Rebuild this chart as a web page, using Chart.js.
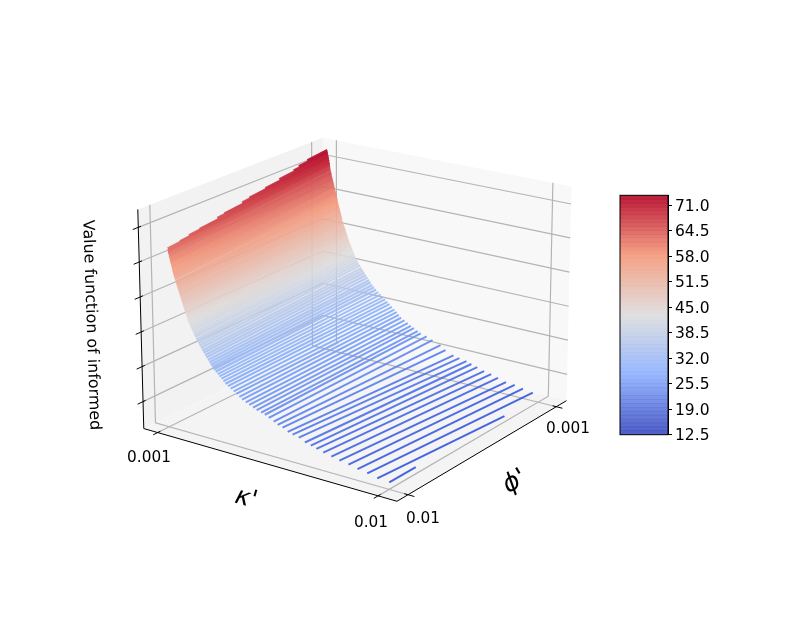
<!DOCTYPE html>
<html>
<head>
<meta charset="utf-8">
<title>Value function of informed</title>
<script src="https://cdn.jsdelivr.net/npm/chart.js@4/dist/chart.umd.min.js"></script>
<style>
  html, body { margin: 0; background: #fff; }
  #surface { position: absolute; left: 0; top: 0; }
  #colorbar { position: absolute; left: 600px; top: 183px; }
</style>
</head>
<body>
<canvas id="surface" width="792" height="633"></canvas>
<canvas id="colorbar" width="130" height="264"></canvas>
<script>
'use strict';

// one entry per surface row, kappa and phi in units of 1e-3
const kappaStart = [
  1.07, 1.08, 1.09, 1.09, 1.1, 1.1, 1.1, 1.1, 1.1, 1.1, 1.1, 1.1, 1.1, 1.11, 1.11,
  1.12, 1.14, 1.15, 1.17, 1.19, 1.2, 1.22, 1.24, 1.25, 1.27, 1.28, 1.3, 1.32, 1.34, 1.36, 1.39, 1.41, 1.43, 1.45, 1.47, 1.5, 1.52, 1.54, 1.56, 1.59, 1.61, 1.63, 1.65,
  1.67, 1.7, 1.72, 1.75, 1.78, 1.8, 1.83, 1.85, 1.88, 1.92, 1.95, 1.99, 2.02, 2.06, 2.1, 2.13, 2.17, 2.21, 2.26,
  2.3, 2.35, 2.41, 2.46, 2.52, 2.57, 2.63, 2.69, 2.74, 2.8, 2.86, 2.94, 3.02, 3.09, 3.17, 3.25, 3.33,
  3.43, 3.54, 3.66, 3.77, 3.89, 4, 4.15, 4.29, 4.44, 4.59, 4.77,
  4.92, 5.08, 5.28, 5.44,
  5.64, 5.85, 6.05, 6.3, 6.55, 6.79, 7.02, 7.3, 7.63, 7.96, 8.33, 8.7, 9.1, 9.51, 10
];
const valueStart = [
  72.7, 72, 71.3, 70.4, 69.4, 68.5, 67.9, 66.8, 66.3, 65.2, 64.6, 63.9, 63.3, 62.8, 62.4,
  61.9, 61.4, 60.9, 60.3, 59.8, 59.3, 58.8, 58.3, 57.8, 57.2, 56.7, 56.2, 55.7, 55.2, 54.7, 54.1, 53.6, 53.1, 52.6, 52.1, 51.6, 51, 50.5, 50, 49.5, 49, 48.5, 48,
  47.5, 46.9, 46.3, 45.7, 45.2, 44.6, 44, 43.4, 42.9, 42.4, 41.8, 41.3, 40.8, 40.2, 39.7, 39.2, 38.6, 38.1, 37.6,
  37, 36.4, 35.8, 35.2, 34.6, 34, 33.4, 32.8, 32.2, 31.7, 31.1, 30.6, 30, 29.5, 29, 28.4, 27.8,
  27.3, 26.8, 26.2, 25.7, 25.1, 24.5, 24, 23.5, 23, 22.6, 22.2,
  21.9, 21.3, 20.6, 20,
  19.6, 18.8, 18.4, 18, 17.1, 16.7, 16.2, 15.7, 15.2, 14.7, 14.3, 13.7, 13.3, 12.7, 12.5
];
const kappaEnd = [
  1.08, 1.09, 1.1, 1.11, 1.12, 1.13, 1.14, 1.15, 1.15, 1.16, 1.17, 1.17, 1.18, 1.19, 1.2,
  1.21, 1.23, 1.25, 1.26, 1.28, 1.3, 1.32, 1.34, 1.36, 1.37, 1.39, 1.41, 1.43, 1.45, 1.47, 1.49, 1.5, 1.52, 1.54, 1.56, 1.58, 1.6, 1.62, 1.64, 1.66, 1.68, 1.69, 1.71,
  1.74, 1.77, 1.8, 1.83, 1.85, 1.88, 1.91, 1.94, 1.97, 2, 2.04, 2.07, 2.11, 2.14, 2.18, 2.21, 2.25, 2.29, 2.34,
  2.39, 2.45, 2.51, 2.57, 2.63, 2.69, 2.76, 2.83, 2.89, 2.96, 3.03, 3.12, 3.22, 3.31, 3.41, 3.5, 3.6,
  3.69, 3.79, 3.89, 3.99, 4.08, 4.18, 4.32, 4.46, 4.59, 4.72, 4.88,
  5.01, 5.26, 5.51, 5.85,
  6.06, 6.4, 6.65, 6.95, 7.16, 7.41, 7.7, 8, 8.29, 8.63, 9, 9.35, 9.77, 10.04, 10
];
const valueEnd = [
  73.5, 73, 72.6, 72.2, 71.7, 71.4, 71.1, 70.6, 70.4, 69.9, 69.6, 69.3, 69, 68.5, 68,
  67.5, 66.9, 66.4, 65.8, 65.2, 64.7, 64.1, 63.5, 62.9, 62.4, 61.8, 61.2, 60.7, 60.1, 59.5, 58.9, 58.4, 57.8, 57.2, 56.6, 56.1, 55.5, 54.9, 54.4, 53.8, 53.2, 52.6, 52,
  51.5, 50.9, 50.3, 49.7, 49.1, 48.5, 47.9, 47.2, 46.6, 46, 45.4, 44.8, 44.2, 43.6, 43, 42.4, 41.8, 41.2, 40.6,
  40, 39.4, 38.7, 38.1, 37.5, 36.8, 36.2, 35.5, 34.9, 34.2, 33.6, 33, 32.4, 31.8, 31.2, 30.6, 30,
  29.5, 28.8, 28.1, 27.5, 26.8, 26.1, 25.5, 24.9, 24.3, 23.8, 23.2,
  22.7, 22.2, 21.5, 20.6,
  19.4, 18.4, 18, 17.6, 17.1, 16.6, 15.9, 15.5, 14.9, 14.2, 14, 13.5, 13, 12.5, 12.5
];
// the first rows start short of phi = 10, the last two stop short of phi = 1
const phiStartTopRows = [2.1, 2.6, 2.9, 3.7, 4.5, 5.4, 5.8, 6.8, 7.2, 8.2, 8.8, 9.3];
const phiEndLastRows = [3.1, 8.4];

const kappaTicks = [1, 10];
const phiTicks = [1, 10];
const valueTicks = [18.5, 28.8, 39, 49.3, 59.6, 69.8];
const kappaTickLabels = ['0.001', '0.01'];
const phiTickLabels = ['0.001', '0.01'];

const colorbarTicks = [12.5, 19, 25.5, 32, 38.5, 45, 51.5, 58, 64.5, 71];
const colorbarLevels = [
  12.5, 13.5, 14.5, 15.5, 16.5, 17.5, 18.5, 19.5, 20.5, 21.5, 22.5, 23.5, 24.5, 25.5, 26.5, 27.5,
  28.5, 29.5, 30.5, 31.5, 32.5, 33.5, 34.5, 35.5, 36.5, 37.5, 38.5, 39.5, 40.5, 41.5, 42.5, 43.5,
  44.5, 45.5, 46.5, 47.5, 48.5, 49.5, 50.5, 51.5, 52.5, 53.5, 54.5, 55.5, 56.5, 57.5, 58.5, 59.5,
  60.5, 61.5, 62.5, 63.5, 64.5, 65.5, 66.5, 67.5, 68.5, 69.5, 70.5, 71.5, 72.5, 73.5
];

// screen corners of the 3d box, u runs along kappa, v along phi, w upward
const box = {
  back:  { floor: [323, 340.5], top: [322.5, 137] },
  right: { floor: [567, 401], top: [572, 186] },
  left:  { floor: [143, 429], top: [137, 209] },
  front: { floor: [397, 502], top: [400, 269] }
};
const FONT = '"DejaVu Sans", sans-serif';
const coolwarm = [[59, 76, 192], [141, 176, 254], [221, 221, 221], [244, 152, 122], [180, 4, 38]];
// the surface reads a little more saturated than the colorbar at its blue end
const surfaceStops = [[52, 84, 222], [130, 172, 255], [221, 221, 221], [244, 152, 122], [180, 4, 38]];
const VALUE_MIN = 12.5;
const VALUE_MAX = 73.5;
const STRIPE_ALPHA = 0.9;

const lerp = (a, b, t) => a + (b - a) * t;

function boxPoint(u, v, w) {
  const edge = key => [0, 1].map(i => lerp(box[key].floor[i], box[key].top[i], w));
  const far = [lerp(edge('back')[0], edge('right')[0], u), lerp(edge('back')[1], edge('right')[1], u)];
  const near = [lerp(edge('left')[0], edge('front')[0], u), lerp(edge('left')[1], edge('front')[1], u)];
  return { x: lerp(far[0], near[0], v), y: lerp(far[1], near[1], v) };
}

const kappaToU = k => 0.055 + 0.0967 * (k - 1);
const phiToV = p => 0.06 + 0.0972 * (p - 1);
const valueToW = z => 0.03 + 0.0155 * (z - VALUE_MIN);
const project = (k, p, z) => boxPoint(kappaToU(k), phiToV(p), valueToW(z));

function valueColor(z, alpha, stops = coolwarm) {
  const t = Math.max(0, Math.min(1, (z - VALUE_MIN) / (VALUE_MAX - VALUE_MIN))) * 4;
  const i = Math.min(3, Math.floor(t));
  const c = [0, 1, 2].map(n => Math.round(lerp(stops[i][n], stops[i + 1][n], t - i)));
  return `rgba(${c[0]},${c[1]},${c[2]},${alpha})`;
}

const paneSet = (pts, color) => ({ data: pts, backgroundColor: color, borderColor: color, borderWidth: 0, fill: 'shape' });
const lineSet = (pts, color, width) => ({ data: pts, borderColor: color, borderWidth: width, fill: false });

// a row shades from the colour of its first value to the colour of its last
function rowGradient(context, from, to, zFrom, zTo) {
  const { chart } = context;
  const { x, y } = chart.scales;
  const ends = x && y ? [x.getPixelForValue(from.x), y.getPixelForValue(from.y), x.getPixelForValue(to.x), y.getPixelForValue(to.y)] : [NaN];
  if (!ends.every(Number.isFinite)) return valueColor(zFrom, STRIPE_ALPHA, surfaceStops);
  const g = chart.ctx.createLinearGradient(ends[0], ends[1], ends[2], ends[3]);
  g.addColorStop(0, valueColor(zFrom, STRIPE_ALPHA, surfaceStops));
  g.addColorStop(1, valueColor(zTo, STRIPE_ALPHA, surfaceStops));
  return g;
}

// paint order, first is at the back
const layers = [
  paneSet([boxPoint(0, 1, 0), boxPoint(0, 0, 0), boxPoint(0, 0, 1), boxPoint(0, 1, 1), boxPoint(0, 1, 0)], '#f2f2f2'),
  paneSet([boxPoint(0, 0, 0), boxPoint(1, 0, 0), boxPoint(1, 0, 1), boxPoint(0, 0, 1), boxPoint(0, 0, 0)], '#f8f8f8'),
  paneSet([boxPoint(0, 0, 0), boxPoint(1, 0, 0), boxPoint(1, 1, 0), boxPoint(0, 1, 0), boxPoint(0, 0, 0)], '#f4f4f4')
];

const GRID = '#b4b4b4';
valueTicks.forEach(z => {
  const w = valueToW(z);
  layers.push(lineSet([boxPoint(0, 1, w), boxPoint(0, 0, w), boxPoint(1, 0, w)], GRID, 1.2));
});
kappaTicks.forEach(k => {
  const u = kappaToU(k);
  layers.push(lineSet([boxPoint(u, 1, 0), boxPoint(u, 0, 0), boxPoint(u, 0, 1)], GRID, 1.2));
});
phiTicks.forEach(p => {
  const v = phiToV(p);
  layers.push(lineSet([boxPoint(1, v, 0), boxPoint(0, v, 0), boxPoint(0, v, 1)], GRID, 1.2));
});

const rowCount = kappaStart.length;
kappaStart.forEach((k, i) => {
  const phiA = phiStartTopRows[i] ?? 10;
  const phiB = phiEndLastRows[i - (rowCount - phiEndLastRows.length)] ?? 1;
  const from = project(k, phiA, valueStart[i]);
  const to = project(kappaEnd[i], phiB, valueEnd[i]);
  layers.push({
    data: [from, to],
    borderWidth: valueStart[i] > 30 ? 2.4 : 2,
    fill: false,
    borderColor: c => rowGradient(c, from, to, valueStart[i], valueEnd[i])
  });
});

// axis lines and tick marks
layers.push(lineSet([boxPoint(0, 1, 1), boxPoint(0, 1, 0), boxPoint(1, 1, 0), boxPoint(1, 0, 0)], '#000', 1));
valueTicks.forEach(z => {
  const w = valueToW(z);
  layers.push(lineSet([boxPoint(0, 0.985, w), boxPoint(0, 1.03, w)], '#000', 1));
});
kappaTicks.forEach(k => {
  const u = kappaToU(k);
  layers.push(lineSet([boxPoint(u, 0.985, 0), boxPoint(u, 1.025, 0)], '#000', 1));
});
phiTicks.forEach(p => {
  const v = phiToV(p);
  layers.push(lineSet([boxPoint(0.985, v, 0), boxPoint(1.025, v, 0)], '#000', 1));
});

function drawText(ctx, text, x, y, font, angle) {
  ctx.save();
  ctx.translate(x, y);
  ctx.rotate(angle * Math.PI / 180);
  ctx.font = font;
  ctx.fillStyle = '#000';
  ctx.textAlign = 'center';
  ctx.textBaseline = 'middle';
  ctx.fillText(text, 0, 0);
  ctx.restore();
}

const axisText = {
  id: 'axisText',
  afterDraw(chart) {
    const ctx = chart.ctx;
    drawText(ctx, kappaTickLabels[0], 149, 458, `15.3px ${FONT}`, 0);
    drawText(ctx, kappaTickLabels[1], 371, 523, `15.3px ${FONT}`, 0);
    drawText(ctx, phiTickLabels[0], 568, 429, `15.3px ${FONT}`, 0);
    drawText(ctx, phiTickLabels[1], 423, 519, `15.3px ${FONT}`, 0);
    drawText(ctx, 'Value function of informed', 91, 325, `15.9px ${FONT}`, 88);
    drawText(ctx, "κ'", 246, 499, `italic 25px ${FONT}`, 16);
    drawText(ctx, "ϕ'", 515, 482, `italic 25px ${FONT}`, -31);
  }
};

const surfaceChart = new Chart(document.getElementById('surface'), {
  type: 'line',
  // chart.js paints the first dataset last
  data: { datasets: layers.slice().reverse() },
  options: {
    responsive: false,
    animation: false,
    events: [],
    layout: { padding: 0 },
    elements: { point: { radius: 0 }, line: { tension: 0, borderCapStyle: 'butt' } },
    plugins: { legend: { display: false }, tooltip: { enabled: false } },
    scales: {
      x: { type: 'linear', min: 0, max: 792, display: false },
      y: { type: 'linear', min: 0, max: 633, reverse: true, display: false }
    }
  },
  plugins: [axisText]
});
// second pass, the gradients need the scales laid out
surfaceChart.update();

const colorbarFrame = {
  id: 'colorbarFrame',
  afterDatasetsDraw(chart) {
    const { left, top, width, height } = chart.chartArea;
    chart.ctx.strokeStyle = '#000';
    chart.ctx.lineWidth = 1;
    chart.ctx.strokeRect(left, top, width, height);
  }
};

new Chart(document.getElementById('colorbar'), {
  type: 'bar',
  data: {
    labels: [''],
    datasets: colorbarLevels.slice(1).map((hi, i) => ({
      data: [[colorbarLevels[i], hi]],
      backgroundColor: valueColor((colorbarLevels[i] + hi) / 2, STRIPE_ALPHA),
      barPercentage: 1,
      categoryPercentage: 1
    }))
  },
  options: {
    responsive: false,
    animation: false,
    events: [],
    layout: { padding: { left: 20, top: 8, bottom: 10 } },
    plugins: { legend: { display: false }, tooltip: { enabled: false } },
    scales: {
      x: { stacked: true, display: false },
      y: {
        position: 'right',
        min: VALUE_MIN,
        max: VALUE_MAX,
        afterBuildTicks: axis => { axis.ticks = colorbarTicks.map(value => ({ value })); },
        afterFit: axis => { axis.width = 62; },
        grid: { drawOnChartArea: false, drawTicks: true, tickLength: 4, color: '#000' },
        border: { color: '#000' },
        ticks: {
          color: '#000',
          padding: 3,
          labelOffset: 1.5,
          autoSkip: false,
          font: { family: 'DejaVu Sans', size: 15.5 },
          callback: v => v.toFixed(1)
        }
      }
    }
  },
  plugins: [colorbarFrame]
});
</script>
</body>
</html>
